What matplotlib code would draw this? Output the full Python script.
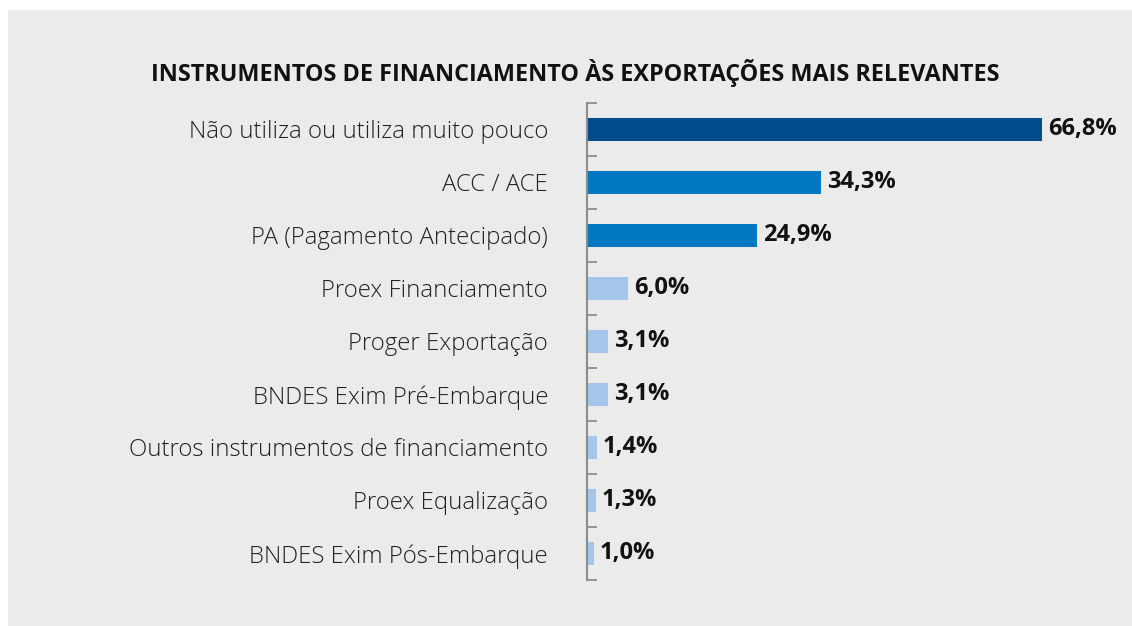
import matplotlib
matplotlib.use("Agg")
import matplotlib.pyplot as plt
from matplotlib.patches import Rectangle

# ========= dados =========
categorias = [
    "Não utiliza ou utiliza muito pouco",
    "ACC / ACE",
    "PA (Pagamento Antecipado)",
    "Proex Financiamento",
    "Proger Exportação",
    "BNDES Exim Pré-Embarque",
    "Outros instrumentos de financiamento",
    "Proex Equalização",
    "BNDES Exim Pós-Embarque",
]
valores = [66.8, 34.3, 24.9, 6.0, 3.1, 3.1, 1.4, 1.3, 1.0]
cores = ["#004c8a", "#0079c2", "#0079c2",
         "#a4c6ea", "#a4c6ea", "#a4c6ea", "#a4c6ea", "#a4c6ea", "#a4c6ea"]

TITULO = "INSTRUMENTOS DE FINANCIAMENTO ÀS EXPORTAÇÕES MAIS RELEVANTES"
FUNDO = "#ebebeb"

plt.rcParams["font.family"] = ["Open Sans", "DejaVu Sans"]

fig = plt.figure(figsize=(11.32, 6.26), dpi=100, facecolor="white")
# painel cinza com margem branca em cima e à esquerda
fig.patches.append(Rectangle((8 / 1132, 0), 1 - 8 / 1132, 1 - 10 / 626,
                             transform=fig.transFigure, facecolor=FUNDO,
                             edgecolor="none", zorder=-1))

ax = fig.add_axes([587 / 1132, 0.0735, 1 - 587 / 1132, 0.762])
ax.set_facecolor("none")

pos = list(range(len(categorias)))
ax.barh(pos, valores, height=0.43, color=cores, zorder=2)

for y, v in zip(pos, valores):
    ax.text(v + 0.9, y, f"{v:.1f}%".replace(".", ","), va="center", ha="left",
            fontsize=17, fontweight="bold", color="#111111")

ax.set_xlim(0, 80)
ax.set_ylim(len(categorias) - 0.5, -0.5)
ax.set_yticks(pos)
ax.set_yticklabels(categorias, fontsize=17.3, fontweight="light",
                   color="#222222")
ax.tick_params(axis="y", which="major", length=0, pad=28)
ax.set_yticks([p - 0.5 for p in pos] + [len(categorias) - 0.5], minor=True)
ax.tick_params(axis="y", which="minor", direction="in", length=7.5,
               width=1.3, color="#8c8c8c")
ax.set_xticks([])

for s in ["top", "right", "bottom"]:
    ax.spines[s].set_visible(False)
ax.spines["left"].set_color("#8c8c8c")
ax.spines["left"].set_linewidth(1.5)

fig.text(575 / 1132, 1 - 73 / 626, TITULO, ha="center", va="center",
         fontsize=16.8, fontweight="bold", color="#111111")

fig.savefig("out.png", dpi=100, facecolor="white")
